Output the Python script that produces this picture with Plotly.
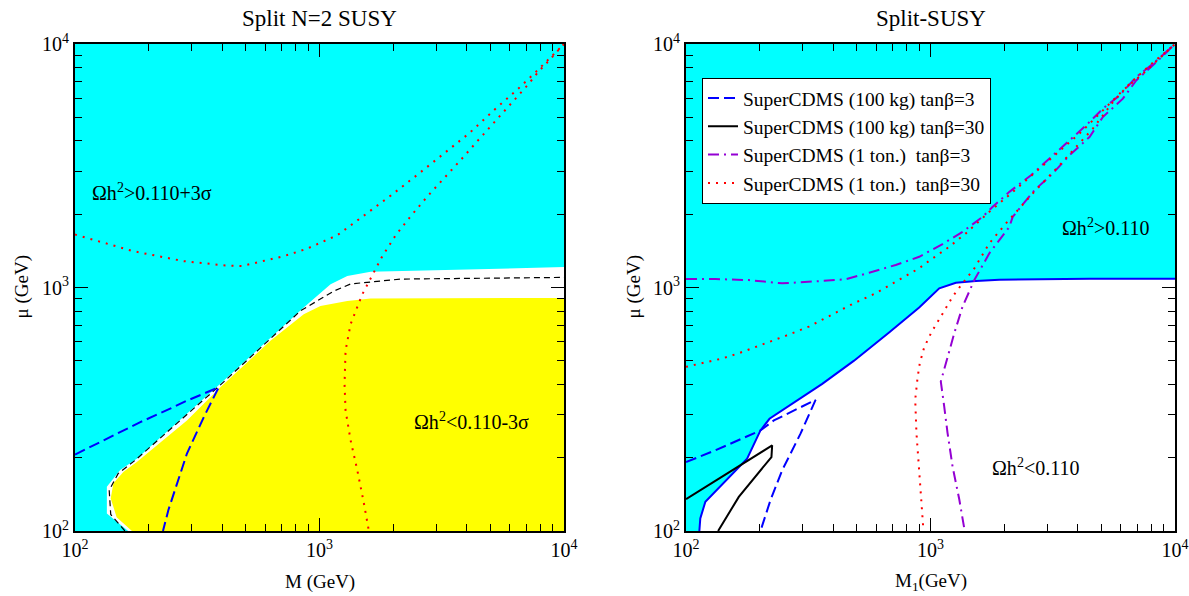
import plotly.graph_objects as go
import math

# ---------------- data: left panel (Split N=2 SUSY) ----------------
white_M = [165, 135, 135, 153, 179, 393, 862, 1110, 1299, 1618, 10000]
white_mu = [100, 118, 152, 178, 198, 402, 827, 1031, 1114, 1160, 1213]

yellow_M = [171, 148, 140, 143.5, 158, 179, 287, 393, 630, 862, 1009, 1299, 1618, 10000]
yellow_mu = [100, 114, 136, 157, 175, 192, 284, 389, 604, 777, 840, 881, 902, 906]

bdash_M = [160, 140, 138, 150, 176, 390, 836, 1144, 1340, 2148, 10000]
bdash_mu = [100, 117, 147, 172, 195, 395, 802, 967, 1034, 1083, 1100]

L_blue_M = [100, 139, 185, 245, 287, 387, 336, 287, 261, 241, 229]
L_blue_mu = [206, 243, 280, 318, 343, 389, 293, 208, 157, 122, 100]

L_red_M = [100, 173, 278, 412, 482, 714, 885, 1182, 1519, 1954, 2514, 3231, 4092, 5179,
           6558, 7801, 8708, 9720, 10000,
           8708, 7846, 7100, 6064, 5179, 4430, 3785, 3231, 2763, 2360, 2049, 1807, 1618,
           1496, 1340, 1278, 1266, 1278, 1340, 1427, 1519, 1592]
L_red_mu = [1650, 1410, 1283, 1232, 1225, 1345, 1441, 1639, 1974, 2383, 2904, 3539, 4297, 5356,
            6607, 7806, 8710, 9660, 10000,
            8577, 7683, 6780, 5700, 4797, 3999, 3345, 2812, 2366, 1961, 1639, 1345, 1097,
            937, 707, 550, 402, 313, 236, 178, 130, 100]

# ---------------- data: right panel (Split-SUSY) ----------------
R_bound_M = [113.4, 114.4, 120, 177.8, 201.6, 219.5, 360.8, 486.8, 677, 899, 1086, 1270, 1534, 1912, 4471, 10000]
R_bound_mu = [100, 112.7, 131.8, 198.3, 258.8, 289, 401.8, 500.6, 653, 827, 992, 1046, 1063, 1077, 1087, 1087]

R_blue_M = [100, 131.8, 201.6, 228.8, 338.8, 294, 247.4, 221.6, 201.6]
R_blue_mu = [192, 214.4, 258.8, 284.5, 345.6, 251, 177.7, 133.9, 100]

R_black_M = [100, 225.1, 223.6, 164.4, 135.3]
R_black_mu = [135.2, 224.7, 201.3, 138.1, 100]

R_purple_M = [100, 131.9, 180.7, 247.4, 338.8, 449.7, 561, 720.7, 899, 1120, 1352, 1634, 1796, 2102,
              2577, 3065, 3702, 4329, 5069, 5934, 6940, 8125, 10000,
              8383, 6940, 6121, 5069, 4471, 3702, 3162, 2661, 2169, 2102, 1740, 1511, 1352, 1251,
              1174, 1102, 1138, 1174, 1231, 1311, 1380]
R_purple_mu = [1083, 1083, 1073, 1040, 1060, 1080, 1150, 1237, 1337, 1508, 1693, 1951, 2144, 2470,
               2891, 3384, 4023, 4634, 5426, 6150, 7309, 8296, 10000,
               8422, 7085, 5963, 5012, 4150, 3491, 2938, 2509, 1951, 1775, 1381, 1073, 834, 649,
               520, 411, 324, 253, 184, 135, 100]

R_red_M = [100, 120, 140.4, 164.4, 204.9, 255.3, 318.4, 390.5, 479, 597, 744, 899, 956, 1193, 1395,
           1740, 2134, 2790, 3370, 4069, 4914, 6121, 7394, 10000,
           7876, 6522, 5570, 4613, 3939, 3370, 2618, 2169, 2035, 1740, 1511, 1352, 1231, 1102,
           1012, 943, 904, 885, 866, 876, 899, 927, 936]
R_red_mu = [472, 492, 511, 537, 581, 633, 691, 766, 855, 947, 1073, 1199, 1257, 1470, 1668,
            2045, 2433, 3080, 3660, 4286, 5174, 6447, 7548, 10000,
            8165, 6868, 5773, 4493, 3776, 3177, 2433, 1982, 1833, 1518, 1199, 1040, 917, 759,
            659, 569, 489, 425, 346, 253, 173, 118.8, 100]

titles = ["Split N=2 SUSY", "Split-SUSY"]
legend_names = ["SuperCDMS (100 kg) tanβ=3", "SuperCDMS (100 kg) tanβ=30",
                "SuperCDMS (1 ton.)  tanβ=3", "SuperCDMS (1 ton.)  tanβ=30"]
tick_vals = [100, 1000, 10000]
tick_text = ["10<sup>2</sup>", "10<sup>3</sup>", "10<sup>4</sup>"]
minor_vals = [200, 300, 400, 500, 600, 700, 800, 900, 2000, 3000, 4000, 5000, 6000, 7000, 8000, 9000]

CYAN = "#00FFFF"
YELLOW = "#FFFF00"
BLUE = "#0000FF"
PURPLE = "#9400D3"
RED = "#FF0000"
FONT = "Liberation Serif"

fig = go.Figure()

# Left panel fills
fig.add_trace(go.Scatter(x=white_M + [10000, white_M[0]], y=white_mu + [100, 100], fill="toself",
                         fillcolor="white", mode="lines", line=dict(width=0), showlegend=False,
                         hoverinfo="skip", xaxis="x", yaxis="y"))
fig.add_trace(go.Scatter(x=yellow_M + [10000, yellow_M[0]], y=yellow_mu + [100, 100], fill="toself",
                         fillcolor=YELLOW, mode="lines", line=dict(width=0), showlegend=False,
                         hoverinfo="skip", xaxis="x", yaxis="y"))
fig.add_trace(go.Scatter(x=bdash_M, y=bdash_mu, mode="lines",
                         line=dict(color="black", width=1.2, dash="6px,4px"),
                         showlegend=False, xaxis="x", yaxis="y"))
fig.add_trace(go.Scatter(x=L_blue_M, y=L_blue_mu, mode="lines",
                         line=dict(color=BLUE, width=2, dash="11px,5px"),
                         showlegend=False, xaxis="x", yaxis="y"))
fig.add_trace(go.Scatter(x=L_red_M, y=L_red_mu, mode="lines",
                         line=dict(color=RED, width=2, dash="2px,6px"),
                         showlegend=False, xaxis="x", yaxis="y"))

# Right panel fills
fig.add_trace(go.Scatter(x=R_bound_M + [10000, R_bound_M[0]], y=R_bound_mu + [100, 100], fill="toself",
                         fillcolor="white", mode="lines", line=dict(width=0), showlegend=False,
                         hoverinfo="skip", xaxis="x2", yaxis="y2"))
fig.add_trace(go.Scatter(x=R_bound_M, y=R_bound_mu, mode="lines",
                         line=dict(color=BLUE, width=2), showlegend=False, xaxis="x2", yaxis="y2"))
fig.add_trace(go.Scatter(x=R_blue_M, y=R_blue_mu, mode="lines", name=legend_names[0],
                         line=dict(color=BLUE, width=2, dash="11px,5px"), xaxis="x2", yaxis="y2"))
fig.add_trace(go.Scatter(x=R_black_M, y=R_black_mu, mode="lines", name=legend_names[1],
                         line=dict(color="black", width=2), xaxis="x2", yaxis="y2"))
fig.add_trace(go.Scatter(x=R_purple_M, y=R_purple_mu, mode="lines", name=legend_names[2],
                         line=dict(color=PURPLE, width=2, dash="11px,5px,2px,5px"), xaxis="x2", yaxis="y2"))
fig.add_trace(go.Scatter(x=R_red_M, y=R_red_mu, mode="lines", name=legend_names[3],
                         line=dict(color=RED, width=2, dash="2px,6px"), xaxis="x2", yaxis="y2"))

L, R, T, B = 75, 8, 43.5, 64.5
W, H = 1189, 596
pw = W - L - R
ph = H - T - B
dom_left = [0, (564 - L) / pw]
dom_right = [(686 - L) / pw, (1175 - L) / pw]

def axis(domain, anchor):
    return dict(type="log", range=[2, 4], domain=domain, anchor=anchor, automargin=False,
                showgrid=False, zeroline=False, showline=True, linecolor="black", linewidth=2,
                mirror="allticks", ticks="inside", ticklen=13, tickwidth=1.3, tickcolor="black",
                tickmode="array", tickvals=tick_vals, ticktext=tick_text,
                tickfont=dict(family=FONT, size=20, color="black"),
                minor=dict(ticks="inside", ticklen=7, tickwidth=1.1, tickcolor="black",
                           tickmode="array", tickvals=minor_vals, showgrid=False))

fig.update_layout(
    width=W, height=H,
    margin=dict(l=L, r=R, t=T, b=B),
    paper_bgcolor="white", plot_bgcolor=CYAN,
    font=dict(family=FONT, color="black"),
    xaxis=axis(dom_left, "y"),
    yaxis=axis([0, 1], "x"),
    xaxis2=axis(dom_right, "y2"),
    yaxis2=axis([0, 1], "x2"),
    legend=dict(x=(702 - L) / pw, y=(531.5 - 77.3) / ph, xanchor="left", yanchor="top",
                bgcolor="white", bordercolor="black", borderwidth=1,
                font=dict(family=FONT, size=19.5, color="black"), tracegroupgap=0),
)

def A(text, x, y, xref="paper", yref="paper", size=19, angle=0):
    return dict(text=text, x=x, y=y, xref=xref, yref=yref, showarrow=False, textangle=angle,
                xanchor="center", yanchor="middle", font=dict(size=size, family=FONT, color="black"))

ann = []
cx = [(dom_left[0] + dom_left[1]) / 2, (dom_right[0] + dom_right[1]) / 2]
for i, t in enumerate(titles):
    ann.append(A(t, cx[i], 1 + (T - 18) / ph, size=23))
ann.append(A("M (GeV)", cx[0], (531.5 - 583) / ph))
ann.append(A("M<sub>1</sub>(GeV)", cx[1], (531.5 - 583) / ph))
ann.append(A("μ (GeV)", (21 - L) / pw, 0.5, angle=-90))
ann.append(A("μ (GeV)", (633 - L) / pw, 0.5, angle=-90))
ann.append(A("Ωh<sup>2</sup>>0.110+3σ", math.log10(206), math.log10(2470), "x", "y", size=20))
ann.append(A("Ωh<sup>2</sup><0.110-3σ", math.log10(4188), math.log10(282), "x", "y", size=20))
ann.append(A("Ωh<sup>2</sup>>0.110", math.log10(5212), math.log10(1775), "x2", "y2", size=20))
ann.append(A("Ωh<sup>2</sup><0.110", math.log10(2693), math.log10(184), "x2", "y2", size=20))
fig.update_layout(annotations=ann)

fig.write_html("out.html", config={"displayModeBar": False},
               post_script="document.body.style.margin='0';document.body.style.overflow='hidden';")
